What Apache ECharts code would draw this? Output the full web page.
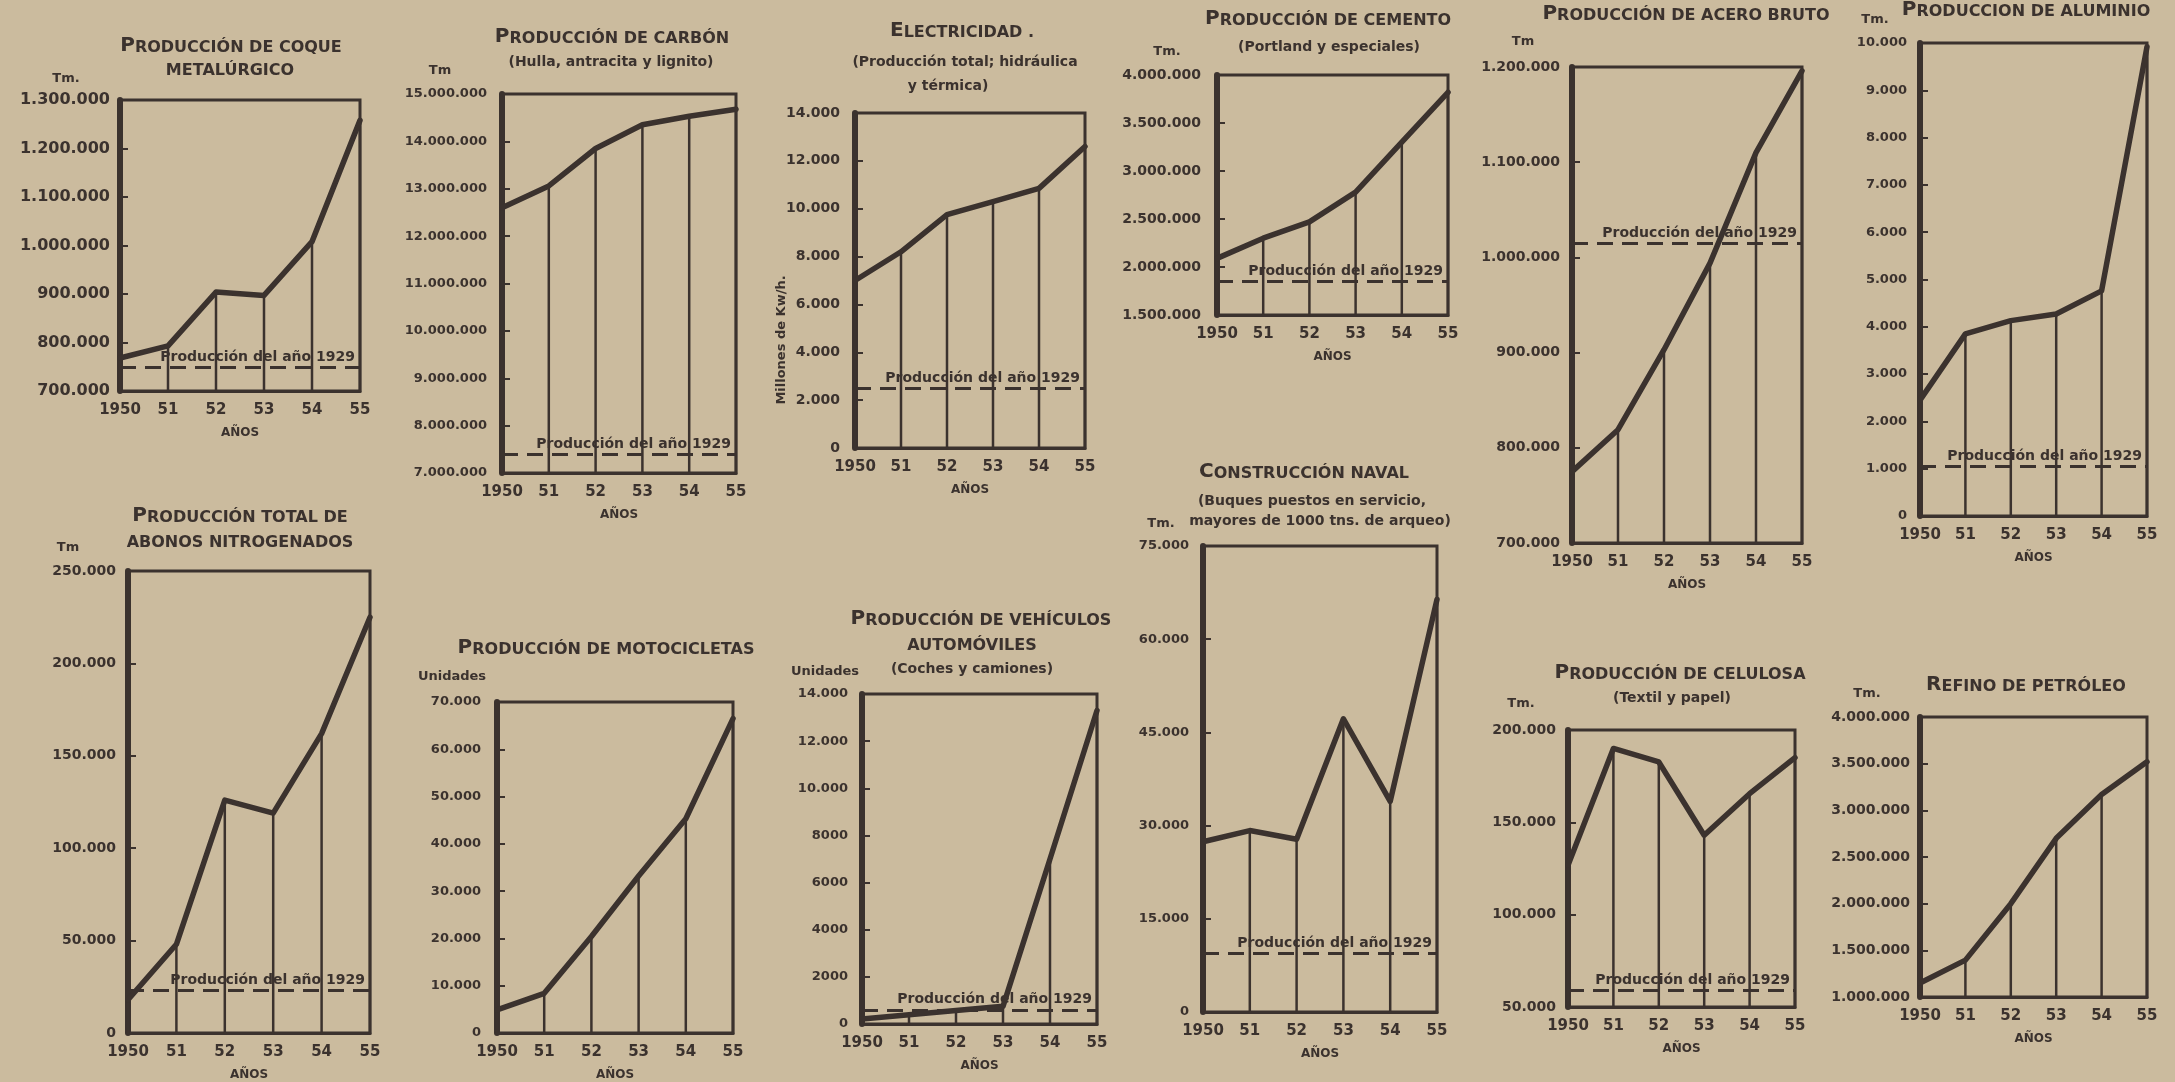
<!DOCTYPE html>
<html><head><meta charset="utf-8">
<script src="https://cdn.jsdelivr.net/npm/echarts@6/dist/echarts.min.js"></script>
<style>html,body{margin:0;padding:0;background:#cbbb9e;}#c{width:2175px;height:1082px;}</style>
</head><body><div id="c"></div>
<script>
// ---------- data ----------
const years = ['1950','51','52','53','54','55'];

const coque        = [768000, 793000, 904000, 897000, 1008000, 1258000];
const coque1929    = 748000;
const coqueTicks   = ['700.000','800.000','900.000','1.000.000','1.100.000','1.200.000','1.300.000'];

const carbon       = [12600000, 13060000, 13850000, 14350000, 14530000, 14680000];
const carbon1929   = 7400000;
const carbonTicks  = ['7.000.000','8.000.000','9.000.000','10.000.000','11.000.000','12.000.000','13.000.000','14.000.000','15.000.000'];

const electricidad = [7000, 8200, 9750, 10300, 10850, 12600];
const elec1929     = 2500;
const elecTicks    = ['0','2.000','4.000','6.000','8.000','10.000','12.000','14.000'];

const cemento      = [2090000, 2300000, 2470000, 2780000, 3300000, 3820000];
const cemento1929  = 1850000;
const cementoTicks = ['1.500.000','2.000.000','2.500.000','3.000.000','3.500.000','4.000.000'];

const acero        = [775000, 819000, 903000, 994000, 1110000, 1196000];
const acero1929    = 1015000;
const aceroTicks   = ['700.000','800.000','900.000','1.000.000','1.100.000','1.200.000'];

const aluminio     = [2450, 3850, 4130, 4270, 4760, 9920];
const aluminio1929 = 1050;
const aluminioTicks= ['0','1.000','2.000','3.000','4.000','5.000','6.000','7.000','8.000','9.000','10.000'];

const abonos       = [18000, 48000, 126000, 119000, 162000, 225000];
const abonos1929   = 23000;
const abonosTicks  = ['0','50.000','100.000','150.000','200.000','250.000'];

const motos        = [4900, 8400, 20400, 33200, 45300, 66500];
const motosTicks   = ['0','10.000','20.000','30.000','40.000','50.000','60.000','70.000'];

const vehiculos    = [215, 390, 570, 750, 7000, 13300];
const vehiculos1929= 600;
const vehiculosTicks=['0','2000','4000','6000','8000','10.000','12.000','14.000'];

const naval        = [27400, 29200, 27800, 47200, 33900, 66400];
const naval1929    = 9500;
const navalTicks   = ['0','15.000','30.000','45.000','60.000','75.000'];

const celulosa     = [126800, 190000, 182700, 143000, 165500, 185000];
const celulosa1929 = 59000;
const celulosaTicks= ['50.000','100.000','150.000','200.000'];

const refino       = [1150000, 1395000, 2000000, 2700000, 3170000, 3520000];
const refinoTicks  = ['1.000.000','1.500.000','2.000.000','2.500.000','3.000.000','3.500.000','4.000.000'];

const refLabel = 'Producción del año 1929';

// ---------- layout / style ----------
const INK = '#3b322e';
const FONT = 'DejaVu Sans';

const panels = [
  {data: coque,        ticks: coqueTicks,     ref: coque1929,    box:[120,100,240,291], lf:16, lm:10},
  {data: carbon,       ticks: carbonTicks,    ref: carbon1929,   box:[502,94,234,379],  lf:13, lm:15},
  {data: electricidad, ticks: elecTicks,      ref: elec1929,     box:[855,113,230,335], lf:14, lm:15},
  {data: cemento,      ticks: cementoTicks,   ref: cemento1929,  box:[1217,75,231,240], lf:14, lm:16},
  {data: acero,        ticks: aceroTicks,     ref: acero1929,    box:[1572,67,230,476], lf:14, lm:12},
  {data: aluminio,     ticks: aluminioTicks,  ref: aluminio1929, box:[1920,43,227,473], lf:13, lm:13},
  {data: abonos,       ticks: abonosTicks,    ref: abonos1929,   box:[128,571,242,465], lf:14, lm:12},
  {data: motos,        ticks: motosTicks,     ref: null,         box:[497,702,236,331], lf:13, lm:16},
  {data: vehiculos,    ticks: vehiculosTicks, ref: vehiculos1929,box:[862,694,235,330], lf:13, lm:14},
  {data: naval,        ticks: navalTicks,     ref: naval1929,    box:[1203,546,234,466], lf:13, lm:14},
  {data: celulosa,     ticks: celulosaTicks,  ref: celulosa1929, box:[1568,730,227,277], lf:14, lm:12},
  {data: refino,       ticks: refinoTicks,    ref: null,         box:[1920,717,227,280], lf:14, lm:10}
];

const num = s => Number(s.replace(/\./g,''));

const grid = [], xAxis = [], yAxis = [], series = [];
panels.forEach((p, i) => {
  const [l,t,w,h] = p.box;
  grid.push({left:l, top:t, width:w, height:h, show:true, borderColor:INK, borderWidth:3, backgroundColor:'transparent'});
  const tv = p.ticks.map(num);
  const mn = tv[0], mx = tv[tv.length-1], iv = tv[1]-tv[0];
  xAxis.push({
    gridIndex:i, type:'category', data:years, boundaryGap:false,
    axisLine:{show:true, lineStyle:{color:INK, width:3}}, axisTick:{show:false},
    axisLabel:{color:INK, fontFamily:FONT, fontWeight:'bold', fontSize:15, margin:12, interval:0},
    name:'AÑOS', nameLocation:'middle', nameGap:36,
    nameTextStyle:{color:INK, fontFamily:FONT, fontWeight:'bold', fontSize:12},
    splitLine:{show:false}
  });
  yAxis.push({
    gridIndex:i, type:'value', min:mn, max:mx, interval:iv,
    axisLine:{show:true, lineStyle:{color:INK, width:6}},
    axisTick:{show:true, inside:true, length:8, lineStyle:{color:INK, width:2}},
    axisLabel:{color:INK, fontFamily:FONT, fontWeight:'bold', fontSize:p.lf, margin:p.lm,
      formatter: v => p.ticks[Math.round((v-mn)/iv)] || ''},
    splitLine:{show:false}
  });
  series.push({
    type:'bar', xAxisIndex:i, yAxisIndex:i, data:p.data, barWidth:2.5,
    itemStyle:{color:INK}, silent:true, z:2, clip:true
  });
  const line = {
    type:'line', xAxisIndex:i, yAxisIndex:i, data:p.data, symbol:'none',
    lineStyle:{color:INK, width:5.5, join:'round', cap:'round'}, z:5, silent:true
  };
  if (p.ref != null) {
    line.markLine = {
      silent:true, symbol:['none','none'],
      lineStyle:{color:INK, type:[16,9], width:3},
      label:{show:true, position:'insideEndTop', formatter:refLabel, color:INK,
        fontFamily:FONT, fontWeight:'bold', fontSize:14, distance:[5,3]},
      data:[{yAxis:p.ref}]
    };
  }
  series.push(line);
});

// ---------- titles & units ----------
function txt(x, y, text, size, opts) {
  opts = opts || {};
  return {type:'text', x:x, y:y, rotation:opts.rot||0, z:10,
    style:{text:text, fill:INK, align:opts.align||'center', verticalAlign:'middle',
      font:(opts.weight||'bold')+' '+size+'px "'+FONT+'"'}};
}
// title line with an enlarged initial capital
function cap(x, y, text) {
  return {type:'text', x:x, y:y, z:10,
    style:{text:'{a|'+text.charAt(0)+'}{b|'+text.slice(1)+'}', align:'center', verticalAlign:'middle',
      rich:{a:{fill:INK, font:'bold 20px "'+FONT+'"', verticalAlign:'bottom'},
            b:{fill:INK, font:'bold 16px "'+FONT+'"', verticalAlign:'bottom'}}}};
}
const T = 16, S = 14, U = 13;
const graphic = [
  cap(231,46,'PRODUCCIÓN DE COQUE'), txt(230,71,'METALÚRGICO',T), txt(66,79,'Tm.',U),
  cap(612,37,'PRODUCCIÓN DE CARBÓN'), txt(611,62,'(Hulla, antracita y lignito)',S), txt(440,71,'Tm',U),
  cap(962,31,'ELECTRICIDAD .'), txt(965,62,'(Producción total; hidráulica',S), txt(948,86,'y térmica)',S),
  txt(782,340,'Millones de Kw/h.',U,{rot:Math.PI/2}),
  cap(1328,19,'PRODUCCIÓN DE CEMENTO'), txt(1329,47,'(Portland y especiales)',S), txt(1167,52,'Tm.',U),
  cap(1686,14,'PRODUCCIÓN DE ACERO BRUTO'), txt(1523,42,'Tm',U),
  cap(2026,10,'PRODUCCION DE ALUMINIO'), txt(1875,20,'Tm.',U),
  cap(240,516,'PRODUCCIÓN TOTAL DE'), txt(240,543,'ABONOS NITROGENADOS',T), txt(68,548,'Tm',U),
  cap(606,648,'PRODUCCIÓN DE MOTOCICLETAS'), txt(452,677,'Unidades',U),
  cap(981,619,'PRODUCCIÓN DE VEHÍCULOS'), txt(972,646,'AUTOMÓVILES',T), txt(972,669,'(Coches y camiones)',S), txt(825,672,'Unidades',U),
  cap(1304,472,'CONSTRUCCIÓN NAVAL'), txt(1312,501,'(Buques puestos en servicio,',S), txt(1320,521,'mayores de 1000 tns. de arqueo)',S), txt(1161,524,'Tm.',U),
  cap(1680,673,'PRODUCCIÓN DE CELULOSA'), txt(1672,698,'(Textil y papel)',S), txt(1521,704,'Tm.',U),
  cap(2026,685,'REFINO DE PETRÓLEO'), txt(1867,694,'Tm.',U)
];

const chart = echarts.init(document.getElementById('c'), null, {renderer:'canvas'});
chart.setOption({
  backgroundColor:'#cbbb9e',
  animation:false,
  textStyle:{fontFamily:FONT},
  grid, xAxis, yAxis, series, graphic
});
</script></body></html>
